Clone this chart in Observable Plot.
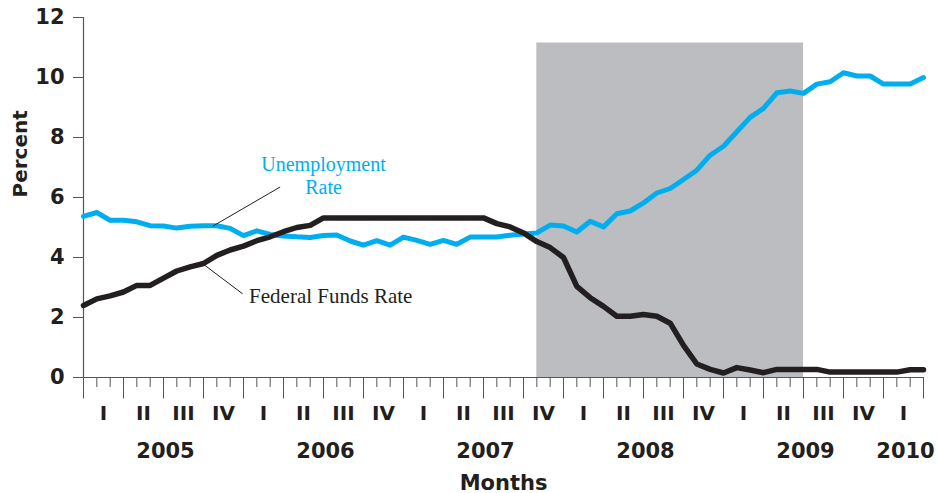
<!DOCTYPE html>
<html><head><meta charset="utf-8">
<script src="https://cdn.jsdelivr.net/npm/d3@7"></script>
<script src="https://cdn.jsdelivr.net/npm/@observablehq/plot@0.6"></script>
<style>
body{margin:0;background:#fff;}
#chart svg{display:block;}
</style></head><body><div id="chart"></div>
<script>
// Monthly index: 0 = Jan 2005 ... 63 = Apr 2010
const monthIndex = d3.range(64);
const unemployment = [
  5.37, 5.50, 5.24, 5.24, 5.19, 5.06, 5.05, 4.98, 5.04, 5.06, 5.06, 4.97,
  4.73, 4.89, 4.77, 4.72, 4.69, 4.67, 4.73, 4.75, 4.55, 4.41, 4.56, 4.41,
  4.68, 4.57, 4.44, 4.57, 4.44, 4.68, 4.68, 4.68, 4.74, 4.78, 4.82, 5.08,
  5.05, 4.85, 5.21, 5.02, 5.46, 5.55, 5.82, 6.15, 6.30, 6.60, 6.91, 7.41,
  7.71, 8.19, 8.67, 8.97, 9.49, 9.55, 9.47, 9.78, 9.86, 10.16, 10.05, 10.05,
  9.78, 9.78, 9.78, 10.00
];
const fedFunds = [
  2.40, 2.62, 2.72, 2.85, 3.07, 3.07, 3.31, 3.55, 3.69, 3.80, 4.07, 4.25,
  4.38, 4.56, 4.69, 4.86, 5.00, 5.07, 5.32, 5.32, 5.32, 5.32, 5.32, 5.32,
  5.32, 5.32, 5.32, 5.32, 5.32, 5.32, 5.32, 5.13, 5.02, 4.82, 4.53, 4.33,
  4.00, 3.04, 2.66, 2.37, 2.04, 2.04, 2.10, 2.04, 1.81, 1.07, 0.45, 0.27,
  0.15, 0.33, 0.25, 0.16, 0.27, 0.27, 0.27, 0.27, 0.18, 0.18, 0.18, 0.18,
  0.18, 0.18, 0.26, 0.26
];
const quarterLabels = ["I","II","III","IV","I","II","III","IV","I","II","III","IV",
  "I","II","III","IV","I","II","III","IV","I"];
const yearLabels = ["2005","2006","2007","2008","2009","2010"];
const yearFirstMonth = [0, 12, 24, 36, 48, 60];
const yearLastMonth = [12, 24, 36, 48, 60, 63];
const recessionStart = [34];
const recessionEnd = [54];
const yTicks = [0, 2, 4, 6, 8, 10, 12];

const rows = monthIndex.map(i => ({i, unemp: unemployment[i], ff: fedFunds[i]}));
const quarters = quarterLabels.map((q, k) => ({x: 1.5 + 3 * k, q}));
const years = yearLabels.map((y, k) => ({x: (yearFirstMonth[k] + yearLastMonth[k]) / 2, y}));
const recession = recessionStart.map((s, k) => ({start: s, end: recessionEnd[k]}));

const ink = "#231f20", axisGray = "#555", blue = "#00aeef";
const serif = "Liberation Serif, DejaVu Serif, serif";

const chart = Plot.plot({
  width: 938, height: 493,
  marginLeft: 83, marginRight: 15, marginTop: 17, marginBottom: 116,
  style: {fontFamily: "DejaVu Sans, sans-serif", fontWeight: "bold", fontSize: "20px", color: ink, background: "#fff", overflow: "visible"},
  x: {domain: [0, 63], axis: null},
  y: {domain: [0, 12], axis: null},
  marks: [
    Plot.rect(recession, {x1: "start", x2: "end", y1: 0, y2: 11.15, fill: "#bcbdc0"}),
    Plot.ruleX([0], {y1: 0, y2: 12, stroke: axisGray, strokeWidth: 1.2}),
    Plot.ruleY([0], {stroke: axisGray, strokeWidth: 1.2}),
    Plot.axisY({ticks: yTicks, tickSize: 10, tickPadding: 9, stroke: axisGray, fill: ink, fontSize: 21, fontWeight: "bold"}),
    Plot.axisX({ticks: monthIndex, tickSize: 10, tickFormat: () => "", stroke: axisGray}),
    Plot.axisX({ticks: d3.range(0, 64, 3), tickSize: 21.5, tickFormat: () => "", stroke: axisGray}),
    Plot.text(quarters, {x: "x", text: "q", frameAnchor: "bottom", lineAnchor: "bottom", dy: 42, fontSize: 20, fontWeight: "bold", fill: ink}),
    Plot.text(years, {x: "x", text: "y", frameAnchor: "bottom", lineAnchor: "bottom", dy: 80, dx: 2, fontSize: 21, fontWeight: "bold", fill: ink}),
    Plot.text(["Months"], {frameAnchor: "bottom", lineAnchor: "bottom", dy: 112, fontSize: 21, fontWeight: "bold", fill: ink}),
    Plot.text(["Percent"], {frameAnchor: "left", rotate: -90, dx: -63, fontSize: 20, fontWeight: "bold", fill: ink}),
    Plot.line(rows, {x: "i", y: "unemp", stroke: blue, strokeWidth: 5, strokeLinejoin: "round"}),
    Plot.line(rows, {x: "i", y: "ff", stroke: ink, strokeWidth: 5.5, strokeLinejoin: "round"}),
    Plot.link([{x1: 14.75, y1: 6.35, x2: 9.68, y2: 5.04}], {x1: "x1", y1: "y1", x2: "x2", y2: "y2", stroke: ink, strokeWidth: 1}),
    Plot.link([{x1: 11.93, y1: 2.79, x2: 9.1, y2: 3.74}], {x1: "x1", y1: "y1", x2: "x2", y2: "y2", stroke: ink, strokeWidth: 1}),
    Plot.text(["Unemployment\nRate"], {x: [18.0], y: [6.12], text: d => d, lineAnchor: "bottom", lineHeight: 1.15, textAnchor: "middle", fill: blue, fontFamily: serif, fontWeight: "normal", fontSize: 20}),
    Plot.text(["Federal Funds Rate"], {x: [12.42], y: [2.48], text: d => d, lineAnchor: "bottom", textAnchor: "start", fill: ink, fontFamily: serif, fontWeight: "normal", fontSize: 21})
  ]
});
document.getElementById("chart").appendChild(chart);
</script>
</body></html>
